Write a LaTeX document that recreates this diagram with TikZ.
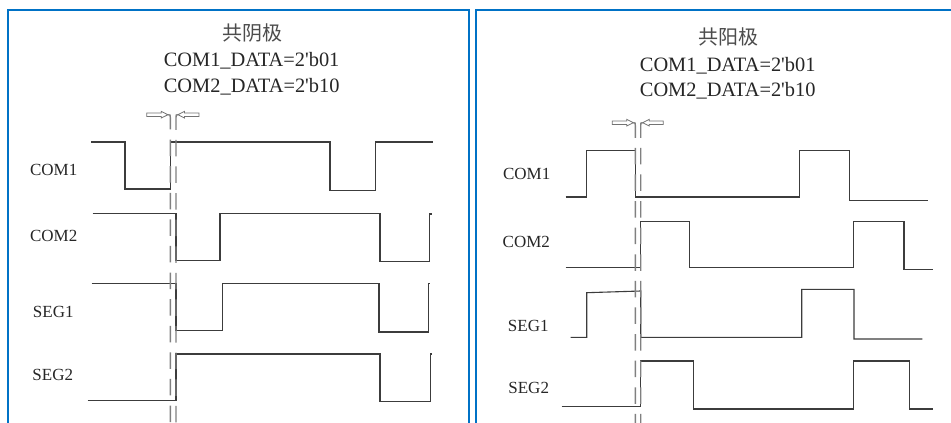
\documentclass[tikz,border=0pt]{standalone}
\usepackage{fontspec}
\newfontfamily\serif{Liberation Serif}
\newfontfamily\cjk{Noto Sans CJK SC}
\definecolor{panelblue}{RGB}{0,114,198}
\definecolor{sig}{RGB}{60,60,60}
\definecolor{guidegray}{RGB}{128,128,128}
\begin{document}
\begin{tikzpicture}[x=1pt,y=-1pt,
  panel/.style={draw=panelblue,line width=2pt},
  signal/.style={draw=sig,line width=1.1pt,line join=miter},
  guide/.style={draw=guidegray,line width=1.4pt,dash pattern=on 16.5pt off 10.1pt},
  hollowarrow/.style={draw=guidegray!90!black,line width=0.8pt,fill=white},
  title/.style={font=\fontsize{20.4}{24}\selectfont\serif,text=black!85,anchor=base,inner sep=0pt},
  cjktitle/.style={font=\fontsize{20}{24}\selectfont\cjk,text=black!70,anchor=base,inner sep=0pt},
  siglabel/.style={font=\fontsize{17}{20}\selectfont\serif,text=black!85,anchor=base,inner sep=0pt}]
\useasboundingbox (0,0) rectangle (951,423);
\fill[white] (0,0) rectangle (951,423);
% panels
\draw[panel] (8,430) -- (8,10) -- (469.3,10) -- (469.3,430);
\draw[panel] (476,430) -- (476,10) -- (960,10);
% ---------- left panel ----------
\node[cjktitle] (tl1) at (252,40) {共阴极};
\node[title] (tl2) at (251.6,66) {COM1\_DATA=2'b01};
\node[title] (tl3) at (251.7,92) {COM2\_DATA=2'b10};
\node[siglabel] (lcom1) at (53.7,175) {COM1};
\node[siglabel] (lcom2) at (53.7,241.7) {COM2};
\node[siglabel] (lseg1) at (53.3,317.3) {SEG1};
\node[siglabel] (lseg2) at (52.8,380) {SEG2};
\draw[signal] (91,142) -- (125,142) -- (125,189) -- (170.3,189) -- (170.3,142) -- (330,142) -- (330,190.7) -- (375.7,190.7) -- (375.7,142) -- (432.7,142);
\draw[signal] (92.7,213.3) -- (176,213.3) -- (176,260.3) -- (220,260.3) -- (220,213.3) -- (380,213.3) -- (380,261.7) -- (429.3,261.7) -- (429.3,214) -- (431.7,214);
\draw[signal] (91.7,283.3) -- (176,283.3) -- (176,330.7) -- (222.7,330.7) -- (222.7,283.3) -- (379,283.3) -- (379,332) -- (428.3,332) -- (428.3,283.3) -- (430,283.3);
\draw[signal] (87.7,400.3) -- (176,400.3) -- (176,354) -- (380,354) -- (380,401.3) -- (430.7,401.3) -- (430.7,354) -- (432,354);
% guides left
\coordinate (la) at (168,114.7);
\coordinate (lb) at (178,114.7);
\draw[hollowarrow] (146.7,113) -- (161.3,113) -- (161.3,111.4) -- (la) -- (161.3,118) -- (161.3,116.4) -- (146.7,116.4) -- cycle;
\draw[hollowarrow] (199,113) -- (184.4,113) -- (184.4,111.4) -- (lb) -- (184.4,118) -- (184.4,116.4) -- (199,116.4) -- cycle;
\draw[guide] (la) .. controls (170.3,114.7) .. (170.3,117.5) -- (170.3,423);
\draw[guide] (lb) .. controls (176,114.7) .. (176,117.5) -- (176,423);
% ---------- right panel ----------
\node[cjktitle] (tr1) at (728.3,45) {共阳极};
\node[title] (tr2) at (727.7,71) {COM1\_DATA=2'b01};
\node[title] (tr3) at (727.7,96.5) {COM2\_DATA=2'b10};
\node[siglabel] (rcom1) at (526.7,179.3) {COM1};
\node[siglabel] (rcom2) at (526.3,247) {COM2};
\node[siglabel] (rseg1) at (528.3,331.7) {SEG1};
\node[siglabel] (rseg2) at (528.7,393.3) {SEG2};
\draw[signal] (565.7,197) -- (586.7,197) -- (586.7,150.7) -- (635.3,150.7) -- (635.3,197) -- (799.7,197) -- (799.7,150.7) -- (849.7,150.7) -- (849.7,200.3) -- (927.7,200.3);
\draw[signal] (565.7,267.3) -- (640.7,267.3) -- (640.7,221.3) -- (689.3,221.3) -- (689.3,267.3) -- (853.3,267.3) -- (853.3,221.3) -- (904,221.3) -- (904,269.7) -- (933.3,269.7);
\draw[signal] (570.7,337.3) -- (586.7,337.3) -- (586.7,292.7) -- (640.7,291) -- (640.7,337.3) -- (801.7,337.3) -- (801.7,289.3) -- (854,289.3) -- (854,339) -- (922.3,339);
\draw[signal] (561.7,406.7) -- (640.7,406.7) -- (640.7,361) -- (693.3,361) -- (693.3,409) -- (853.3,409) -- (853.3,361) -- (909.3,361) -- (909.3,409) -- (933.3,409);
% guides right
\coordinate (ra) at (633.3,122.7);
\coordinate (rb) at (642.7,122.7);
\draw[hollowarrow] (612.3,121) -- (626.8,121) -- (626.8,119.4) -- (ra) -- (626.8,126) -- (626.8,124.4) -- (612.3,124.4) -- cycle;
\draw[hollowarrow] (663.3,121) -- (649.2,121) -- (649.2,119.4) -- (rb) -- (649.2,126) -- (649.2,124.4) -- (663.3,124.4) -- cycle;
\draw[guide] (ra) .. controls (635.3,122.7) .. (635.3,125.5) -- (635.3,423);
\draw[guide] (rb) .. controls (640.7,122.7) .. (640.7,125.5) -- (640.7,423);
\end{tikzpicture}
\end{document}
